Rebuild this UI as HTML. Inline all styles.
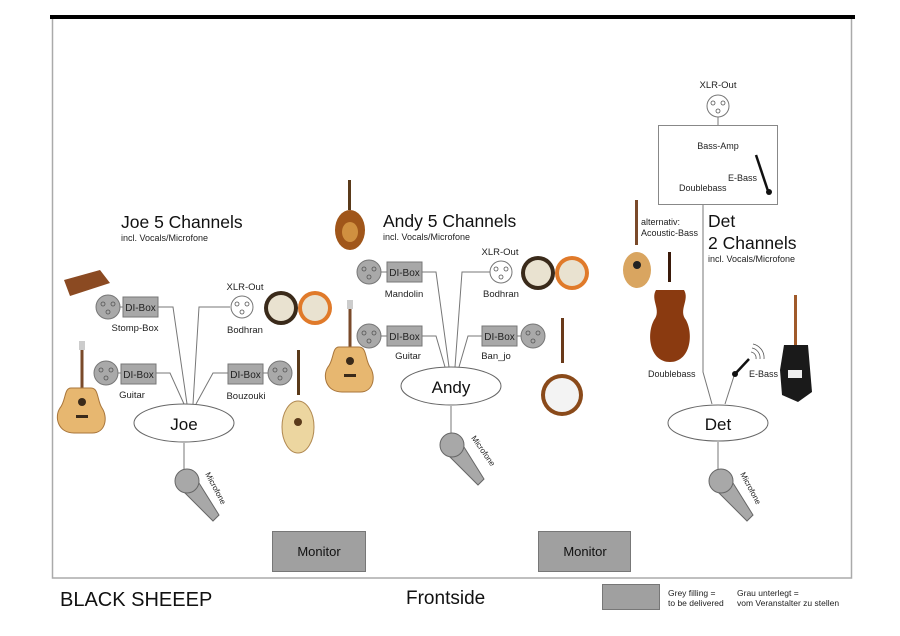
<!DOCTYPE html>
<html><head><meta charset="utf-8"><style>
html,body{margin:0;padding:0;background:#fff}
svg{display:block;font-family:"Liberation Sans",Arial,sans-serif}
</style></head><body>
<svg width="900" height="636" viewBox="0 0 900 636" xmlns="http://www.w3.org/2000/svg">
<defs>
<g id="xlr"><circle r="12" fill="#a9a9a9" stroke="#777" stroke-width="1"/><circle cx="-5" cy="-3" r="2" fill="none" stroke="#555" stroke-width=".8"/><circle cx="5" cy="-3" r="2" fill="none" stroke="#555" stroke-width=".8"/><circle cx="0" cy="5" r="2" fill="none" stroke="#555" stroke-width=".8"/></g>
<g id="xlrw"><circle r="11" fill="#fff" stroke="#777" stroke-width="1"/><circle cx="-5" cy="-3" r="2" fill="none" stroke="#555" stroke-width=".8"/><circle cx="5" cy="-3" r="2" fill="none" stroke="#555" stroke-width=".8"/><circle cx="0" cy="5" r="2" fill="none" stroke="#555" stroke-width=".8"/></g>
<g id="di"><rect x="0" y="0" width="35" height="20" fill="#a8a8a8" stroke="#777"/><text x="17.5" y="14" font-size="10" text-anchor="middle" fill="#222">DI-Box</text></g>
<g id="mic"><path d="M-7,7 L26,40 L32,34 L7,-6 Z" fill="#a8a8a8" stroke="#666"/><circle r="12" fill="#a8a8a8" stroke="#666"/></g>
<g id="guitar"><rect x="-1.5" y="-45" width="3" height="40" fill="#7a4a2a"/><rect x="-3" y="-52" width="6" height="9" fill="#ccc"/><path d="M-11,-5 C-18,-5 -16,8 -22,15 C-28,24 -24,40 -8,40 L10,40 C24,40 26,24 20,15 C15,8 17,-5 9,-5 Z" fill="#e7b770" stroke="#a8753a"/><circle cx="0" cy="9" r="4" fill="#3a2a1a"/><rect x="-6" y="22" width="12" height="3" fill="#3a2a1a"/></g>
<g id="bodhran"><circle r="17" fill="#e07a2a"/><circle r="13" fill="#e9e2d0"/></g>
</defs>

<!-- frame -->
<rect x="52.5" y="17" width="799" height="561" fill="none" stroke="#aaa" stroke-width="1.5"/>
<rect x="50" y="15" width="805" height="4" fill="#000"/>

<g stroke="#777" stroke-width="1" fill="none">
<polyline points="158,307 173,307 187,404"/>
<polyline points="230,307 199,307 193,404"/>
<polyline points="156,373 170,373 184,404"/>
<polyline points="228,373 213,373 196,404"/>
<line x1="120" y1="307" x2="123" y2="307"/><line x1="118" y1="373" x2="121" y2="373"/><line x1="263" y1="373" x2="268" y2="373"/>
<line x1="184" y1="443" x2="184" y2="470"/>
<polyline points="421,272 436,272 449,367"/>
<polyline points="490,272 462,272 455,367"/>
<polyline points="421,336 436,336 445,367"/>
<polyline points="482,336 468,336 459,367"/>
<line x1="381" y1="272" x2="387" y2="272"/><line x1="381" y1="336" x2="387" y2="336"/><line x1="516" y1="336" x2="521" y2="336"/>
<line x1="451" y1="406" x2="451" y2="436"/>
<line x1="718" y1="117" x2="718" y2="125"/>
<polyline points="703,204 703,372 712,404"/>
<line x1="734" y1="376" x2="725" y2="404"/>
<line x1="718" y1="442" x2="718" y2="470"/>
</g>

<!-- Joe group -->
<use href="#xlr" x="108" y="307"/><use href="#di" x="123" y="297"/>
<text x="135" y="331" font-size="9.5" text-anchor="middle" fill="#222">Stomp-Box</text>
<use href="#xlr" x="106" y="373"/><use href="#di" x="121" y="364"/>
<text x="132" y="398" font-size="9.5" text-anchor="middle" fill="#222">Guitar</text>
<use href="#xlrw" x="242" y="307"/>
<text x="245" y="290" font-size="9.5" text-anchor="middle" fill="#222">XLR-Out</text>
<text x="245" y="333" font-size="9.5" text-anchor="middle" fill="#222">Bodhran</text>
<use href="#di" x="228" y="364"/><use href="#xlr" x="280" y="373"/>
<text x="246" y="399" font-size="9.5" text-anchor="middle" fill="#222">Bouzouki</text>
<ellipse cx="184" cy="423" rx="50" ry="19" fill="#fff" stroke="#666"/>
<text x="184" y="430" font-size="17" text-anchor="middle" fill="#111">Joe</text>
<use href="#mic" x="187" y="481"/>
<text transform="translate(205,474) rotate(62)" font-size="8" fill="#222">Microfone</text>
<text x="121" y="228" font-size="17.5" fill="#111">Joe 5 Channels</text>
<text x="121" y="241" font-size="9" fill="#222">incl. Vocals/Microfone</text>

<!-- Andy group -->
<use href="#xlr" x="369" y="272"/><use href="#di" x="387" y="262"/>
<text x="404" y="297" font-size="9.5" text-anchor="middle" fill="#222">Mandolin</text>
<use href="#xlr" x="369" y="336"/><use href="#di" x="387" y="326"/>
<text x="408" y="359" font-size="9.5" text-anchor="middle" fill="#222">Guitar</text>
<use href="#xlrw" x="501" y="272"/>
<text x="500" y="255" font-size="9.5" text-anchor="middle" fill="#222">XLR-Out</text>
<text x="501" y="297" font-size="9.5" text-anchor="middle" fill="#222">Bodhran</text>
<use href="#di" x="482" y="326"/><use href="#xlr" x="533" y="336"/>
<text x="496" y="359" font-size="9.5" text-anchor="middle" fill="#222">Ban_jo</text>
<ellipse cx="451" cy="386" rx="50" ry="19" fill="#fff" stroke="#666"/>
<text x="451" y="393" font-size="17" text-anchor="middle" fill="#111">Andy</text>
<use href="#mic" x="452" y="445"/>
<text transform="translate(471,438) rotate(55)" font-size="8" fill="#222">Microfone</text>
<text x="383" y="227" font-size="17.5" fill="#111">Andy 5 Channels</text>
<text x="383" y="240" font-size="9" fill="#222">incl. Vocals/Microfone</text>

<!-- Det group -->
<use href="#xlrw" x="718" y="106"/>
<text x="718" y="88" font-size="9.5" text-anchor="middle" fill="#222">XLR-Out</text>
<rect x="658.5" y="125.5" width="119" height="79" fill="#fff" stroke="#888"/>
<text x="718" y="149" font-size="9" text-anchor="middle" fill="#222">Bass-Amp</text>
<text x="728" y="181" font-size="9" fill="#222">E-Bass</text>
<text x="679" y="191" font-size="9" fill="#222">Doublebass</text>
<line x1="756" y1="155" x2="768" y2="191" stroke="#111" stroke-width="2.5"/><circle cx="769" cy="192" r="3" fill="#111"/>
<text x="708" y="227" font-size="17.5" fill="#111">Det</text>
<text x="708" y="249" font-size="17.5" fill="#111">2 Channels</text>
<text x="708" y="262" font-size="9" fill="#222">incl. Vocals/Microfone</text>
<text x="641" y="225" font-size="9" fill="#222">alternativ:</text>
<text x="641" y="236" font-size="9" fill="#222">Acoustic-Bass</text>
<text x="648" y="377" font-size="9" fill="#222">Doublebass</text>
<text x="749" y="377" font-size="9" fill="#222">E-Bass</text>
<line x1="735" y1="374" x2="749" y2="359" stroke="#111" stroke-width="2.5"/><circle cx="735" cy="374" r="3" fill="#111"/>
<g fill="none" stroke="#555" stroke-width=".8"><path d="M751,352 a6,6 0 0 1 5,7"/><path d="M752,348 a10,10 0 0 1 8,11"/><path d="M753,344 a14,14 0 0 1 11,15"/></g>
<ellipse cx="718" cy="423" rx="50" ry="18" fill="#fff" stroke="#666"/>
<text x="718" y="430" font-size="17" text-anchor="middle" fill="#111">Det</text>
<use href="#mic" x="721" y="481"/>
<text transform="translate(740,474) rotate(62)" font-size="8" fill="#222">Microfone</text>

<!-- instruments (approximate) -->
<path d="M64,280 L100,270 L110,283 L70,296 Z" fill="#8b4a22"/>
<use href="#guitar" x="82" y="393"/>
<use href="#guitar" x="350" y="352"/>
<g><circle cx="281" cy="308" r="17" fill="#3a2a1a"/><circle cx="281" cy="308" r="13" fill="#e9e2d0"/></g>
<use href="#bodhran" x="315" y="308"/>
<g><circle cx="538" cy="273" r="17" fill="#3a2a1a"/><circle cx="538" cy="273" r="13" fill="#e9e2d0"/></g>
<use href="#bodhran" x="572" y="273"/>
<rect x="297" y="350" width="3" height="45" fill="#5a3a1a"/>
<ellipse cx="298" cy="427" rx="16" ry="26" fill="#ecd6a0" stroke="#b08850"/><circle cx="298" cy="422" r="4" fill="#5a3a1a"/>
<rect x="348" y="180" width="3" height="30" fill="#5a3a1a"/>
<ellipse cx="350" cy="230" rx="15" ry="20" fill="#a0561a"/><ellipse cx="350" cy="232" rx="8" ry="10" fill="#d09040"/>
<rect x="561" y="318" width="3" height="45" fill="#6a3a1a"/>
<circle cx="562" cy="395" r="21" fill="#8a4a1a"/><circle cx="562" cy="395" r="17" fill="#f3f3f3"/>
<rect x="635" y="200" width="3" height="45" fill="#7a4a2a"/>
<ellipse cx="637" cy="270" rx="14" ry="18" fill="#d9a560"/><circle cx="637" cy="265" r="4" fill="#222"/>
<rect x="668" y="252" width="3" height="30" fill="#3a1a0a"/>
<path d="M656,290 C650,300 662,310 654,320 C646,335 650,362 670,362 C690,362 694,335 686,320 C678,310 690,300 684,290 Z" fill="#8a3a10"/>
<rect x="794" y="295" width="3" height="50" fill="#a05a2a"/>
<path d="M784,345 L808,345 L812,392 L798,402 L782,395 L780,370 Z" fill="#1a1a1a"/><rect x="788" y="370" width="14" height="8" fill="#eee"/>

<!-- monitors -->
<rect x="272.5" y="531.5" width="93" height="40" fill="#a0a0a0" stroke="#777"/>
<text x="319" y="556" font-size="13" text-anchor="middle" fill="#111">Monitor</text>
<rect x="538.5" y="531.5" width="92" height="40" fill="#a0a0a0" stroke="#777"/>
<text x="585" y="556" font-size="13" text-anchor="middle" fill="#111">Monitor</text>

<!-- footer -->
<text x="60" y="606" font-size="20" fill="#111">BLACK SHEEEP</text>
<text x="406" y="604" font-size="19" fill="#111">Frontside</text>
<rect x="602.5" y="584.5" width="57" height="25" fill="#a0a0a0" stroke="#777"/>
<text x="668" y="596" font-size="8.5" fill="#222">Grey filling =</text>
<text x="668" y="606" font-size="8.5" fill="#222">to be delivered</text>
<text x="737" y="596" font-size="8.5" fill="#222">Grau unterlegt =</text>
<text x="737" y="606" font-size="8.5" fill="#222">vom Veranstalter zu stellen</text>
</svg>
</body></html>
